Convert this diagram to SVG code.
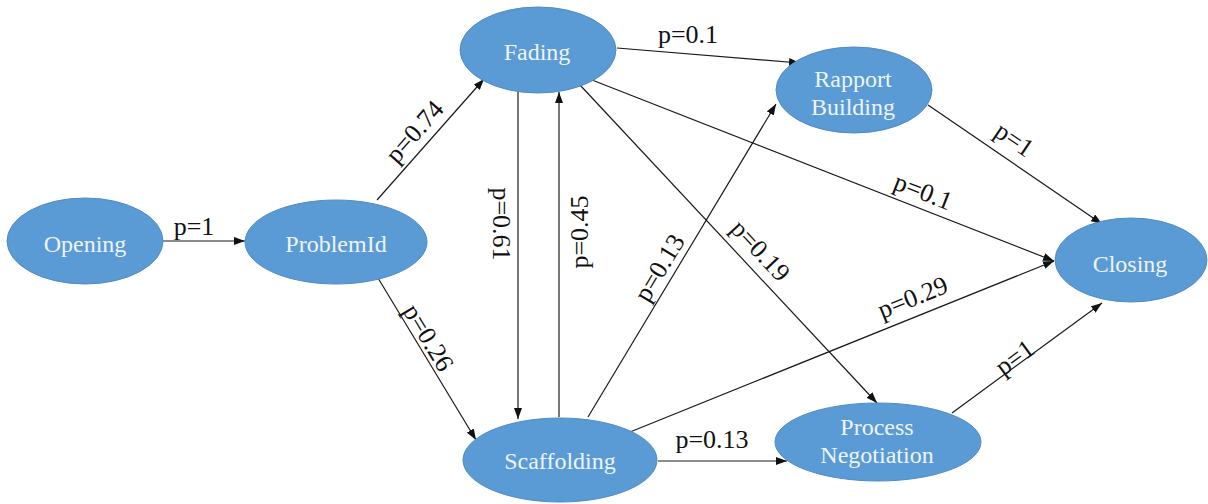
<svg xmlns="http://www.w3.org/2000/svg" width="1208" height="504" viewBox="0 0 1208 504">
<style>
.node{fill:#5b9bd5;stroke:#4f8cc4;stroke-width:1}
.nt{font-family:"Liberation Serif","Times New Roman",serif;font-size:24px;fill:#eef4fb;text-anchor:middle}
.edge{stroke:#1a1a1a;stroke-width:1.2;fill:none;marker-end:url(#arr)}
.el{font-family:"Liberation Serif","Times New Roman",serif;font-size:26px;fill:#111;text-anchor:middle}
</style>
<defs>
<marker id="arr" markerUnits="userSpaceOnUse" markerWidth="11" markerHeight="8" refX="11" refY="4" orient="auto">
<path d="M0,0 L11,4 L0,8 z" fill="#111"/>
</marker>
</defs>
<rect width="1208" height="504" fill="#fff"/>
<g id="connectors">
<line class="edge" x1="163" y1="241" x2="245" y2="241"/>
<line class="edge" x1="377" y1="200" x2="484" y2="79"/>
<line class="edge" x1="378" y1="278" x2="476" y2="440"/>
<line class="edge" x1="518" y1="92" x2="518" y2="419"/>
<line class="edge" x1="559" y1="417" x2="559" y2="92"/>
<line class="edge" x1="617" y1="48" x2="800" y2="63"/>
<line class="edge" x1="580" y1="85" x2="877" y2="403"/>
<line class="edge" x1="592" y1="80" x2="1054" y2="261"/>
<line class="edge" x1="588" y1="417" x2="776" y2="104"/>
<line class="edge" x1="630" y1="432" x2="1054" y2="261"/>
<line class="edge" x1="658" y1="461" x2="787" y2="461"/>
<line class="edge" x1="952" y1="413" x2="1102" y2="303"/>
<line class="edge" x1="928" y1="105" x2="1102" y2="224"/>
<text class="el" x="194" y="235">p=1</text>
<text class="el" transform="translate(415,132) rotate(-48.5)" y="8">p=0.74</text>
<text class="el" transform="translate(428,338) rotate(58.8)" y="8">p=0.26</text>
<text class="el" transform="translate(501,224) rotate(90)" y="8">p=0.61</text>
<text class="el" transform="translate(580,232) rotate(-90)" y="8">p=0.45</text>
<text class="el" x="688" y="43">p=0.1</text>
<text class="el" transform="translate(760,251) rotate(47)" y="8">p=0.19</text>
<text class="el" transform="translate(923,192) rotate(21.4)" y="8">p=0.1</text>
<text class="el" transform="translate(660,268) rotate(-59)" y="8">p=0.13</text>
<text class="el" transform="translate(913,298) rotate(-22)" y="8">p=0.29</text>
<text class="el" x="712" y="448">p=0.13</text>
<text class="el" transform="translate(1015,358) rotate(-36.3)" y="8">p=1</text>
<text class="el" transform="translate(1014,140) rotate(34.4)" y="8">p=1</text>
</g>
<g id="opening">
<ellipse class="node" cx="85" cy="241" rx="78" ry="43"/>
<text class="nt" x="85" y="252">Opening</text>
</g>
<g id="problemid">
<ellipse class="node" cx="336" cy="242" rx="91" ry="42"/>
<text class="nt" x="336" y="252">ProblemId</text>
</g>
<g id="fading">
<ellipse class="node" cx="538" cy="50" rx="78" ry="43"/>
<text class="nt" x="537" y="60">Fading</text>
</g>
<g id="rapport">
<ellipse class="node" cx="854" cy="90" rx="78" ry="43"/>
<text class="nt" x="853" y="87">Rapport</text>
<text class="nt" x="853" y="115">Building</text>
</g>
<g id="closing">
<ellipse class="node" cx="1131" cy="260" rx="76" ry="42"/>
<text class="nt" x="1130" y="272">Closing</text>
</g>
<g id="scaffolding">
<ellipse class="node" cx="560" cy="460" rx="97" ry="42"/>
<text class="nt" x="560" y="469">Scaffolding</text>
</g>
<g id="process">
<ellipse class="node" cx="878" cy="442" rx="103" ry="39"/>
<text class="nt" x="877" y="435">Process</text>
<text class="nt" x="877" y="463">Negotiation</text>
</g>
</svg>
